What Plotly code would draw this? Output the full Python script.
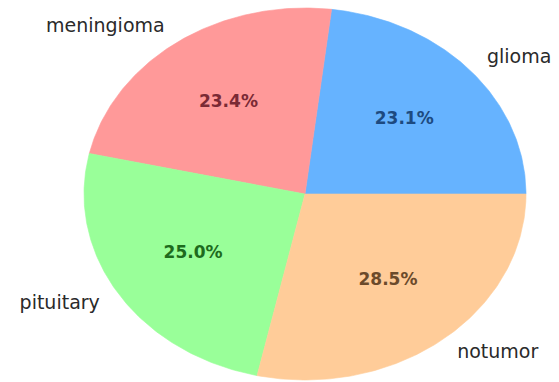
import numpy as np
import plotly.graph_objects as go

# ---- data ----
categories = ["glioma", "meningioma", "pituitary", "notumor"]
counts = [1621, 1645, 1757, 2000]
slice_colors = ["#66b3ff", "#ff9999", "#99ff99", "#ffcc99"]
pct_colors = ["#1d4a80", "#7a2a35", "#1d6b1d", "#6b4a2b"]

# ---- layout geometry (pixels) ----
W, H = 559, 382
CX, CY = 305, 194      # pie centre in pixels
RX, RY = 221, 186      # stretched radii in pixels

total = float(sum(counts))
fractions = [c / total for c in counts]

fig = go.Figure()

start = 0.0
label_x, label_y, label_pos = [], [], []
pct_x, pct_y, pct_text = [], [], []
for name, frac, col in zip(categories, fractions, slice_colors):
    a0 = start
    a1 = start + frac * 2 * np.pi
    th = np.linspace(a0, a1, 120)
    xs = np.concatenate([[0.0], np.cos(th), [0.0]])
    ys = np.concatenate([[0.0], np.sin(th), [0.0]])
    fig.add_trace(go.Scatter(
        x=xs, y=ys, mode="lines", fill="toself", fillcolor=col,
        line=dict(color=col, width=0.6), hoverinfo="skip", showlegend=False,
    ))
    mid = (a0 + a1) / 2
    lx, ly = 1.1 * np.cos(mid), 1.1 * np.sin(mid)
    label_x.append(lx)
    label_y.append(ly)
    label_pos.append("middle right" if lx > 0 else "middle left")
    pct_x.append(0.6 * np.cos(mid))
    pct_y.append(0.6 * np.sin(mid))
    pct_text.append(f"{frac * 100:.1f}%")
    start = a1

fig.add_trace(go.Scatter(
    x=label_x, y=label_y, mode="text", text=categories,
    textposition=label_pos,
    textfont=dict(family="DejaVu Sans", size=19, color="#2a2a2a"),
    hoverinfo="skip", showlegend=False,
))
fig.add_trace(go.Scatter(
    x=pct_x, y=pct_y, mode="text", text=pct_text,
    textposition="middle center",
    textfont=dict(family="DejaVu Sans", size=17, color=pct_colors, weight="bold"),
    hoverinfo="skip", showlegend=False,
))

fig.update_layout(
    width=W, height=H, autosize=False,
    margin=dict(l=0, r=0, t=0, b=0),
    paper_bgcolor="white", plot_bgcolor="white",
    xaxis=dict(range=[-CX / RX, (W - CX) / RX], visible=False, fixedrange=True),
    yaxis=dict(range=[-(H - CY) / RY, CY / RY], visible=False, fixedrange=True),
)

fig.write_html("out.html")
